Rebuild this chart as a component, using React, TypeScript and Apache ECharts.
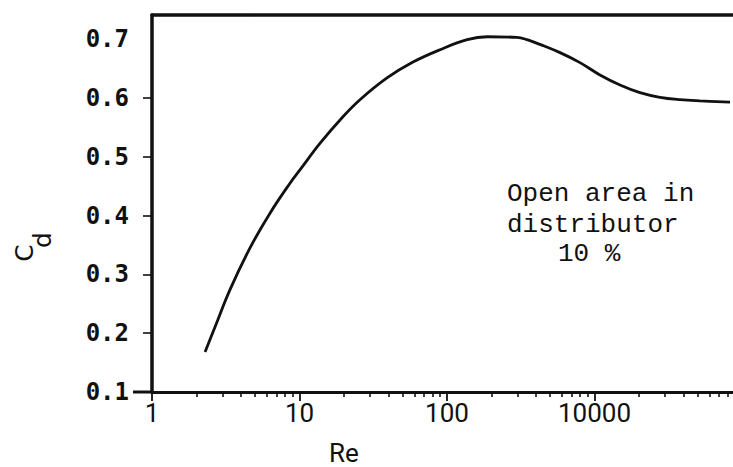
import React, { useEffect, useRef } from "react";
import * as echarts from "echarts";

// Drag coefficient of the distributor vs. Reynolds number
const reValues = [2.29, 2.67, 3.38, 4.62, 6.31, 8.62, 10.1, 13.8, 19.7, 25.7, 39.2, 58.8, 89.7, 137, 187, 298, 349, 427, 584, 797, 1089, 1489, 2034, 2780, 3800, 5190, 8300];
const cdValues = [0.168, 0.21, 0.274, 0.345, 0.404, 0.455, 0.478, 0.523, 0.568, 0.597, 0.634, 0.661, 0.682, 0.699, 0.704, 0.703, 0.699, 0.691, 0.677, 0.66, 0.639, 0.622, 0.609, 0.601, 0.597, 0.595, 0.593];

// Axis ticks and labels
const xMin = 1;
const xMax = 8690;
const xTickValues = [1, 10, 100, 1000];
const xTickLabels = ["1", "10", "100", "10000"];
const xMinorTicks = [2, 3, 4, 5, 6, 7, 8, 9, 20, 30, 40, 50, 60, 70, 80, 90, 200, 300, 400, 500, 600, 700, 800, 900, 2000, 3000, 4000, 5000, 6000, 7000, 8000];
const yMin = 0.1;
const yMax = 0.741;
const yLabelValues = [0.1, 0.2, 0.3, 0.4, 0.5, 0.6, 0.7];
const yTickValues = [0.2, 0.3, 0.4, 0.5, 0.6];

const noteLines = ["Open area in", "distributor", "10 %"];

const INK = "#111";

export default function App() {
  const ref = useRef<HTMLDivElement>(null);

  useEffect(() => {
    if (!ref.current) return;
    const chart = echarts.init(ref.current, undefined, { renderer: "svg" });

    const xLabel = (v: number) => {
      const i = xTickValues.findIndex((t) => Math.abs(t - v) / t < 1e-6);
      return i >= 0 ? xTickLabels[i] : "";
    };

    const monoNote = {
      fontFamily: "Liberation Mono",
      fontSize: 26,
      fill: INK,
    };

    chart.setOption({
      animation: false,
      backgroundColor: "#fff",
      grid: { left: 152, right: 0, top: 15, bottom: 75, containLabel: false },
      xAxis: [
        {
          type: "log",
          logBase: 10,
          min: xMin,
          max: xMax,
          position: "bottom",
          axisLine: { show: true, lineStyle: { color: INK, width: 3 } },
          axisTick: { show: true, inside: false, length: 9, lineStyle: { color: INK, width: 1.8 } },
          axisLabel: {
            formatter: xLabel,
            fontFamily: "Roboto",
            fontSize: 26,
            color: INK,
            margin: 8,
            showMaxLabel: false,
          },
          splitLine: { show: false },
          minorTick: { show: false },
        },
        {
          // minor decade ticks, laid out in log10 space on the same grid
          type: "value",
          min: 0,
          max: Math.log10(xMax),
          position: "bottom",
          offset: 0,
          axisLine: { show: false },
          axisTick: {
            show: true,
            inside: false,
            length: 5,
            lineStyle: { color: INK, width: 1.6 },
            customValues: xMinorTicks.map((v) => Math.log10(v)),
          },
          axisLabel: { show: false },
          splitLine: { show: false },
        },
        {
          // top frame line
          type: "value",
          min: 0,
          max: 1,
          position: "top",
          axisLine: { show: true, lineStyle: { color: INK, width: 3.5 } },
          axisTick: { show: false },
          axisLabel: { show: false },
          splitLine: { show: false },
        },
      ],
      yAxis: {
        type: "value",
        min: yMin,
        max: yMax,
        interval: 0.1,
        axisLine: { show: true, lineStyle: { color: INK, width: 3.5 } },
        axisTick: {
          show: true,
          inside: false,
          length: 9,
          lineStyle: { color: INK, width: 1.6 },
          customValues: yTickValues,
        },
        axisLabel: {
          customValues: yLabelValues,
          formatter: (v: number) => v.toFixed(1),
          fontFamily: "DejaVu Sans Mono",
          fontWeight: "bold",
          fontSize: 24,
          color: INK,
          margin: 23,
        },
        splitLine: { show: false },
      },
      series: [
        {
          type: "line",
          xAxisIndex: 0,
          yAxisIndex: 0,
          data: reValues.map((r, i) => [r, cdValues[i]]),
          smooth: 0.4,
          showSymbol: false,
          symbol: "none",
          lineStyle: { color: INK, width: 2.8 },
          clip: false,
        },
      ],
      graphic: [
        // x-axis line runs a little past the y-axis on the left
        {
          type: "line",
          shape: { x1: 133, y1: 392, x2: 152, y2: 392 },
          style: { stroke: INK, lineWidth: 3 },
        },
        {
          type: "text",
          x: 344,
          y: 453,
          style: { text: "Re", fontFamily: "Roboto", fontSize: 26, fill: INK, textAlign: "center", textVerticalAlign: "middle" },
        },
        {
          type: "text",
          x: 24,
          y: 253,
          rotation: Math.PI / 2,
          style: { text: "C", fontFamily: "DejaVu Sans", fontSize: 25, fill: INK, textAlign: "center", textVerticalAlign: "middle" },
        },
        {
          type: "text",
          x: 42,
          y: 240,
          rotation: Math.PI / 2,
          style: { text: "d", fontFamily: "DejaVu Sans", fontSize: 25, fill: INK, textAlign: "center", textVerticalAlign: "middle" },
        },
        {
          type: "text",
          x: 507,
          y: 194,
          style: { ...monoNote, text: noteLines[0], textAlign: "left", textVerticalAlign: "middle" },
        },
        {
          type: "text",
          x: 507,
          y: 225,
          style: { ...monoNote, text: noteLines[1], textAlign: "left", textVerticalAlign: "middle" },
        },
        {
          type: "text",
          x: 558,
          y: 254,
          style: { ...monoNote, text: noteLines[2], textAlign: "left", textVerticalAlign: "middle" },
        },
      ],
    });

    return () => chart.dispose();
  }, []);

  return (
    <div
      ref={ref}
      style={{ position: "fixed", left: 0, top: 0, width: 733, height: 467, background: "#fff" }}
    />
  );
}
